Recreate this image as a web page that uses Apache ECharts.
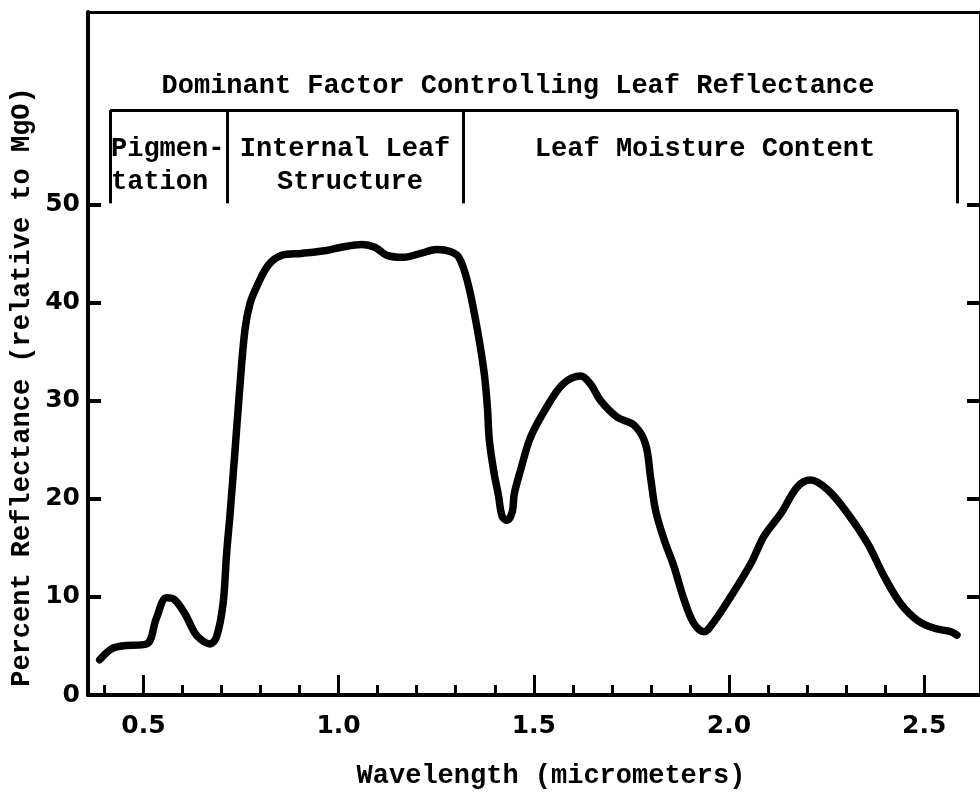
<!DOCTYPE html>
<html>
<head>
<meta charset="utf-8">
<script src="https://cdn.jsdelivr.net/npm/echarts@6/dist/echarts.min.js"></script>
<style>
html,body{margin:0;padding:0;background:#fff;}
#chart{width:980px;height:799px;}
</style>
</head>
<body>
<div id="chart"></div>
<script>
// ---- data ----
const wavelength = [0.388,0.418,0.444,0.508,0.533,0.559,0.580,0.606,0.632,0.649,0.670,0.687,0.704,0.713,0.722,0.734,0.747,0.760,0.773,0.790,0.820,0.854,0.905,0.969,1.004,1.060,1.094,1.124,1.167,1.210,1.252,1.286,1.308,1.329,1.351,1.372,1.381,1.386,1.397,1.410,1.419,1.432,1.445,1.450,1.466,1.492,1.534,1.575,1.620,1.645,1.671,1.714,1.757,1.786,1.799,1.812,1.834,1.859,1.885,1.910,1.936,1.962,2.004,2.056,2.090,2.133,2.175,2.209,2.253,2.304,2.355,2.398,2.440,2.483,2.526,2.568,2.584];
const reflectance = [3.6,4.7,5.0,5.2,7.8,9.9,9.7,8.3,6.3,5.6,5.2,5.9,9.3,14.4,18.5,24.6,31.4,37.2,39.9,41.6,43.8,44.8,45.0,45.3,45.6,45.9,45.6,44.8,44.6,45.0,45.4,45.2,44.6,42.3,38.2,33.1,29.4,26.0,22.9,20.2,18.2,17.8,18.7,20.5,22.9,26.3,29.4,31.7,32.5,31.7,30.0,28.3,27.5,25.6,22.2,18.8,15.8,13.1,9.7,7.3,6.45,7.5,10.0,13.4,16.2,18.5,21.2,21.9,20.9,18.5,15.45,12.05,9.3,7.6,6.8,6.45,6.1];
const xLabelTicks = [0.5, 1.0, 1.5, 2.0, 2.5];
const xMinorTicks = [0.4,0.6,0.7,0.8,0.9,1.1,1.2,1.3,1.4,1.6,1.7,1.8,1.9,2.1,2.2,2.3,2.4];
const yLabelTicks = [0, 10, 20, 30, 40, 50];
const yInnerTicks = [10, 20, 30, 40, 50];
// region boundaries of the "Dominant Factor" bracket (micrometers)
const regionBounds = [0.415, 0.714, 1.319, 2.586];
const bracketLevels = [50.1, 59.6];

const XMIN = 0.358, XMAX = 2.643, YMIN = 0, YMAX = 69.6;

const chart = echarts.init(document.getElementById('chart'), null, {renderer: 'canvas'});
const ink = '#000';
const mono = '"Liberation Mono", "DejaVu Sans Mono", monospace';
const sans = '"DejaVu Sans", sans-serif';

const gridBox = {left: 88, top: 12, right: 0, bottom: 104};

const markLines = [];
markLines.push([{coord: [regionBounds[0], bracketLevels[1]]}, {coord: [regionBounds[regionBounds.length - 1], bracketLevels[1]]}]);
regionBounds.forEach(b => markLines.push([{coord: [b, bracketLevels[1]]}, {coord: [b, bracketLevels[0]]}]));

const textStyleBase = {fill: ink, font: 'bold 27px ' + mono};

chart.setOption({
  animation: false,
  backgroundColor: '#fff',
  grid: [
    Object.assign({}, gridBox),
    Object.assign({}, gridBox)
  ],
  xAxis: [
    {
      gridIndex: 0, type: 'value', min: XMIN, max: XMAX, position: 'bottom',
      axisLine: {show: true, lineStyle: {color: ink, width: 4}},
      axisTick: {show: true, inside: true, length: 10, customValues: xMinorTicks, lineStyle: {color: ink, width: 3}},
      axisLabel: {show: true, customValues: xLabelTicks, margin: 19, color: ink, fontFamily: sans, fontWeight: 'bold', fontSize: 25,
        formatter: v => v.toFixed(1)},
      splitLine: {show: false}
    },
    {
      gridIndex: 1, type: 'value', min: XMIN, max: XMAX, position: 'bottom',
      axisLine: {show: false},
      axisTick: {show: true, inside: true, length: 20, customValues: xLabelTicks, lineStyle: {color: ink, width: 3}},
      axisLabel: {show: false},
      splitLine: {show: false}
    },
    {
      gridIndex: 1, type: 'value', min: XMIN, max: XMAX, position: 'top',
      axisLine: {show: true, lineStyle: {color: ink, width: 3}},
      axisTick: {show: false}, axisLabel: {show: false}, splitLine: {show: false}
    }
  ],
  yAxis: [
    {
      gridIndex: 0, type: 'value', min: YMIN, max: YMAX, interval: 10, position: 'left',
      axisLine: {show: true, lineStyle: {color: ink, width: 4}},
      axisTick: {show: true, inside: true, length: 13, customValues: yInnerTicks, lineStyle: {color: ink, width: 4}},
      axisLabel: {show: true, customValues: yLabelTicks, margin: 8, color: ink, fontFamily: sans, fontWeight: 'bold', fontSize: 25},
      splitLine: {show: false}
    },
    {
      gridIndex: 0, type: 'value', min: YMIN, max: YMAX, interval: 10, position: 'right',
      axisLine: {show: true, lineStyle: {color: ink, width: 3}},
      axisTick: {show: true, inside: true, length: 13, customValues: yInnerTicks, lineStyle: {color: ink, width: 4}},
      axisLabel: {show: false},
      splitLine: {show: false}
    },
    {
      gridIndex: 1, type: 'value', min: YMIN, max: YMAX, show: false
    }
  ],
  series: [{
    type: 'line',
    xAxisIndex: 0, yAxisIndex: 0,
    data: wavelength.map((w, i) => [w, reflectance[i]]),
    smooth: 0.35,
    symbol: 'none',
    lineStyle: {color: ink, width: 7.5, cap: 'round', join: 'round'},
    silent: true,
    markLine: {
      silent: true,
      symbol: ['none', 'none'],
      label: {show: false},
      lineStyle: {color: ink, width: 3, type: 'solid'},
      data: markLines
    }
  }],
  graphic: [
    {type: 'text', x: 518, y: 86, style: Object.assign({text: 'Dominant Factor Controlling Leaf Reflectance', textAlign: 'center', textVerticalAlign: 'middle'}, textStyleBase)},
    {type: 'text', x: 111, y: 149, style: Object.assign({text: 'Pigmen-', textAlign: 'left', textVerticalAlign: 'middle'}, textStyleBase)},
    {type: 'text', x: 111, y: 182, style: Object.assign({text: 'tation', textAlign: 'left', textVerticalAlign: 'middle'}, textStyleBase)},
    {type: 'text', x: 345, y: 149, style: Object.assign({text: 'Internal Leaf', textAlign: 'center', textVerticalAlign: 'middle'}, textStyleBase)},
    {type: 'text', x: 350, y: 182, style: Object.assign({text: 'Structure', textAlign: 'center', textVerticalAlign: 'middle'}, textStyleBase)},
    {type: 'text', x: 705, y: 149, style: Object.assign({text: 'Leaf Moisture Content', textAlign: 'center', textVerticalAlign: 'middle'}, textStyleBase)},
    {type: 'text', x: 551, y: 776, style: Object.assign({text: 'Wavelength (micrometers)', textAlign: 'center', textVerticalAlign: 'middle'}, textStyleBase)},
    {type: 'text', x: 22, y: 387, rotation: Math.PI / 2, style: Object.assign({text: 'Percent Reflectance (relative to MgO)', textAlign: 'center', textVerticalAlign: 'middle'}, textStyleBase)}
  ]
});
</script>
</body>
</html>
